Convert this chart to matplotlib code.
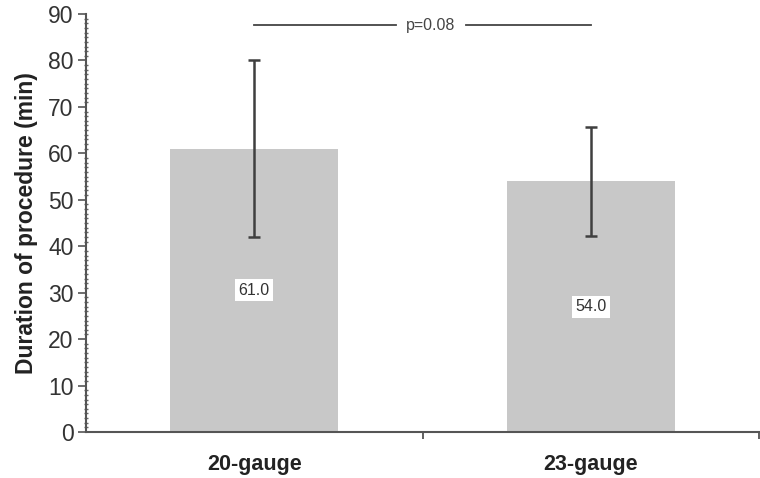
import matplotlib.pyplot as plt
from matplotlib.ticker import MultipleLocator

plt.rcParams['font.family'] = ['Liberation Sans', 'DejaVu Sans']

groups = ['20-gauge', '23-gauge']
means = [61.0, 54.0]
sds = [19.0, 11.7]
p_text = 'p=0.08'
p_level = 87.6

fig = plt.figure(figsize=(7.6, 4.78), dpi=100)
ax = fig.add_axes([0.113, 0.0962, 0.886, 0.8745])

x = [0, 1]
ax.bar(x, means, width=0.5, color='#c8c8c8', zorder=1)
ax.errorbar(x, means, yerr=sds, fmt='none', ecolor='#3f3f3f', elinewidth=1.8,
            capsize=4, capthick=1.8, zorder=3)

# value labels in the middle of the bars
for xi, m in zip(x, means):
    ax.text(xi, m / 2, '%.1f' % m, ha='center', va='center', fontsize=11.5,
            color='#333333', zorder=4,
            bbox=dict(facecolor='white', edgecolor='none', pad=2.5))

# significance bracket
ax.plot([x[0], 0.42], [p_level, p_level], color='#444444', lw=1.3, clip_on=False)
ax.plot([0.63, x[1]], [p_level, p_level], color='#444444', lw=1.3, clip_on=False)
ax.text(0.525, p_level, p_text, ha='center', va='center', fontsize=11.5, color='#444444')

ax.set_xlim(-0.5, 1.5)
ax.set_ylim(0, 90)
ax.yaxis.set_major_locator(MultipleLocator(10))
ax.yaxis.set_minor_locator(MultipleLocator(1))
ax.set_xticks([0.5, 1.5])
ax.set_xticklabels([])
ax.set_xticks(x, minor=True)
ax.set_xticklabels(groups, minor=True, fontsize=15.5, fontweight='bold', color='#222222')
ax.tick_params(axis='x', which='minor', length=0, pad=16)
ax.tick_params(axis='x', which='major', length=5, width=1.2, color='#444444', direction='out')
ax.tick_params(axis='y', which='major', length=6, width=1.2, color='#555555',
               labelsize=16.5, labelcolor='#333333', pad=3)
ax.tick_params(axis='y', which='minor', length=3.5, width=1.0, color='#666666', direction='inout')

for s in ['top', 'right']:
    ax.spines[s].set_visible(False)
for s in ['left', 'bottom']:
    ax.spines[s].set_color('#555555')
    ax.spines[s].set_linewidth(1.5)

ax.set_ylabel('Duration of procedure (min)', fontsize=16.5, fontweight='bold',
              color='#222222', labelpad=7)

fig.savefig('out.png', dpi=100)
